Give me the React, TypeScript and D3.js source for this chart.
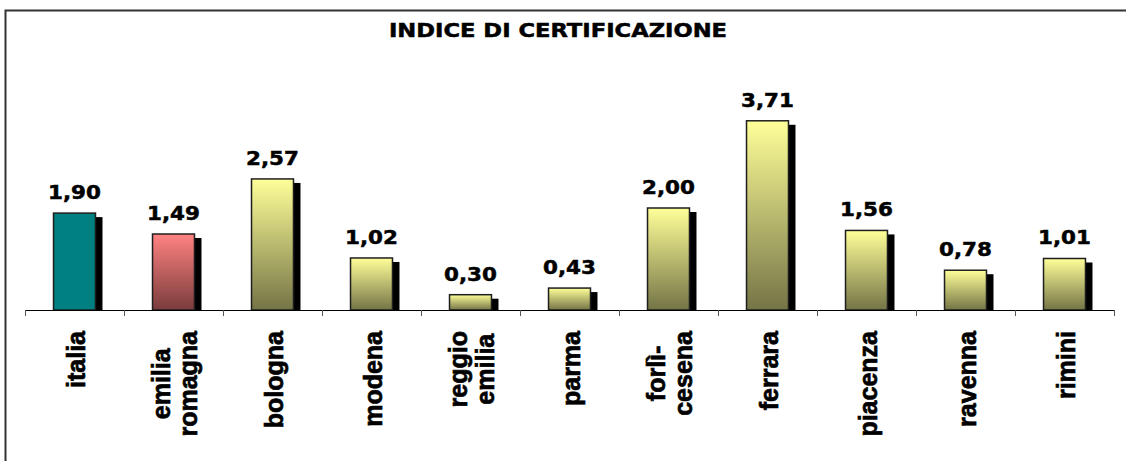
import * as d3 from "d3";
import { useEffect, useRef } from "react";

const categories = ["italia", "emilia romagna", "bologna", "modena", "reggio emilia", "parma", "forlì-cesena", "ferrara", "piacenza", "ravenna", "rimini"];
const labelLines = [["italia"], ["emilia", "romagna"], ["bologna"], ["modena"], ["reggio", "emilia"], ["parma"], ["forlì-", "cesena"], ["ferrara"], ["piacenza"], ["ravenna"], ["rimini"]];
const values = [1.90, 1.49, 2.57, 1.02, 0.30, 0.43, 2.00, 3.71, 1.56, 0.78, 1.01];
const barKinds = ["teal", "red", "yellow", "yellow", "yellow", "yellow", "yellow", "yellow", "yellow", "yellow", "yellow"];
const title = "INDICE DI CERTIFICAZIONE";

const W = 1126;
const H = 461;

export default function App() {
    const ref = useRef<SVGSVGElement | null>(null);

    useEffect(() => {
        document.body.style.margin = "0";
        if (!ref.current) return;
        const svg = d3.select(ref.current);
        svg.selectAll("*").remove();

        const defs = svg.append("defs");
        const grads: Record<string, [string, string]> = {
            red: ["#ff8282", "#7a3c3c"],
            yellow: ["#ffff99", "#747446"],
        };
        Object.entries(grads).forEach(([k, [top, bottom]]) => {
            const g = defs.append("linearGradient")
                .attr("id", "grad-" + k)
                .attr("x1", 0).attr("y1", 0).attr("x2", 0).attr("y2", 1);
            g.append("stop").attr("offset", "0%").attr("stop-color", top);
            g.append("stop").attr("offset", "100%").attr("stop-color", bottom);
        });

        // frame (only top and left edges are visible)
        svg.append("path")
            .attr("d", `M5.5,${H} V10.5 H${W}`)
            .attr("fill", "none")
            .attr("stroke", "#333")
            .attr("stroke-width", 2);

        svg.append("text")
            .attr("text-anchor", "middle")
            .attr("font-family", "DejaVu Sans")
            .attr("font-weight", "bold")
            .attr("font-size", 19.5)
            .attr("stroke", "#000")
            .attr("stroke-width", 0.5)
            .attr("transform", "translate(558,37) scale(1.16,1)")
            .text(title);

        const x = d3.scaleBand<string>()
            .domain(categories)
            .range([25, 1114])
            .paddingInner(0.576)
            .paddingOuter(0.288);

        const y = d3.scaleLinear().domain([0, 4]).range([310, 106]);

        const step = x.step();
        const tickX = d3.range(categories.length + 1).map(i => 25 + i * step);

        // bars: shadow then bar
        const bars = svg.append("g");
        bars.selectAll("rect.shadow")
            .data(values)
            .join("rect")
            .attr("class", "shadow")
            .attr("x", (d, i) => x(categories[i])! + 7)
            .attr("y", d => y(d) + 4)
            .attr("width", x.bandwidth())
            .attr("height", d => y(0) - y(d) - 4)
            .attr("fill", "#000");

        bars.selectAll("rect.bar")
            .data(values)
            .join("rect")
            .attr("class", "bar")
            .attr("x", (d, i) => x(categories[i])!)
            .attr("y", d => y(d))
            .attr("width", x.bandwidth())
            .attr("height", d => y(0) - y(d))
            .attr("fill", (d, i) => barKinds[i] === "teal" ? "#008080" : `url(#grad-${barKinds[i]})`)
            .attr("stroke", "#1e1e1e")
            .attr("stroke-width", 1.5);

        // axis
        svg.append("line")
            .attr("x1", 25).attr("x2", 1114)
            .attr("y1", 310.5).attr("y2", 310.5)
            .attr("stroke", "#000");
        svg.selectAll("line.tick")
            .data(tickX)
            .join("line")
            .attr("class", "tick")
            .attr("x1", d => Math.round(d) + 0.5).attr("x2", d => Math.round(d) + 0.5)
            .attr("y1", 310).attr("y2", 316)
            .attr("stroke", "#555");

        // value labels
        svg.selectAll("text.val")
            .data(values)
            .join("text")
            .attr("class", "val")
            .attr("text-anchor", "middle")
            .attr("font-family", "DejaVu Sans")
            .attr("font-weight", "bold")
            .attr("font-size", 19.5)
            .attr("stroke", "#000")
            .attr("stroke-width", 0.5)
            .attr("transform", (d, i) => {
                const cx = x(categories[i])! + x.bandwidth() / 2;
                return `translate(${cx},${y(d) - 14}) scale(1.1,1)`;
            })
            .text(d => d3.format(".2f")(d).replace(".", ","));

        // category labels, rotated
        labelLines.forEach((lines, i) => {
            const cx = x(categories[i])! + x.bandwidth() / 2 + 10;
            const texts = lines.map(line => svg.append("text")
                .attr("text-anchor", "middle")
                .attr("font-family", "Liberation Sans")
                .attr("font-weight", "bold")
                .attr("font-size", 25)
                .attr("stroke", "#000")
                .attr("stroke-width", 0.7)
                .text(line));
            const maxLen = d3.max(texts, t => (t.node() as SVGTextElement).getComputedTextLength()) ?? 0;
            texts.forEach((t, j) => {
                const dx = (j - (lines.length - 1) / 2) * 27;
                t.attr("transform", `translate(${cx + dx},${331 + maxLen / 2}) rotate(-90)`);
            });
        });
    }, []);

    return <svg ref={ref} width={W} height={H} style={{ display: "block" }} />;
}
